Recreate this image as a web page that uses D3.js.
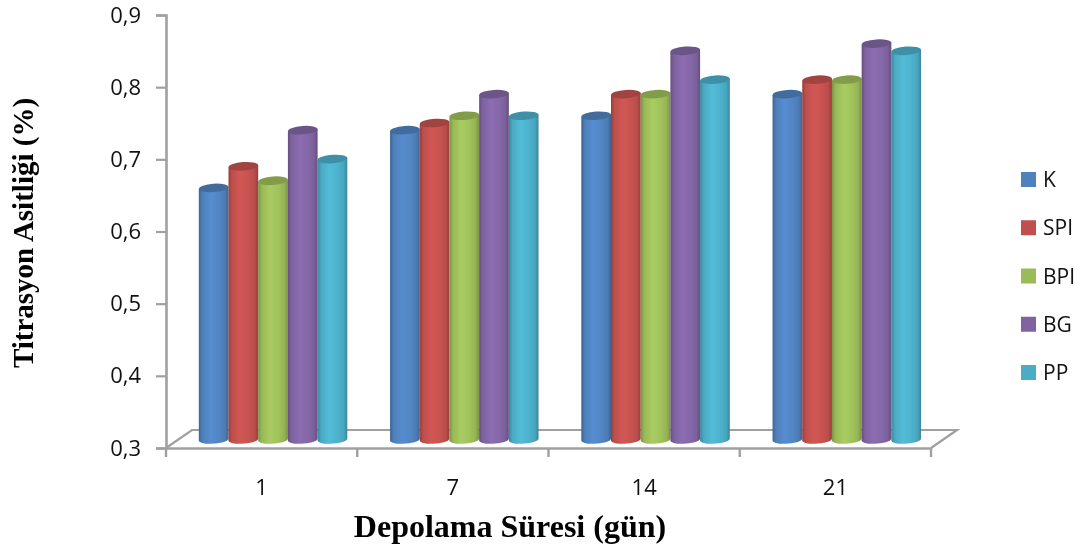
<!DOCTYPE html>
<html><head><meta charset="utf-8">
<style>html,body{margin:0;padding:0;background:#fff;overflow:hidden}svg{display:block;filter:blur(0.35px)}</style>
<script src="https://cdn.jsdelivr.net/npm/d3@7/dist/d3.min.js"></script></head>
<body><div id="c"></div>
<script>
const categories=["1","7","14","21"];
const seriesNames=["K","SPI","BPI","BG","PP"];
const K=[0.65,0.73,0.75,0.78];
const SPI=[0.68,0.74,0.78,0.80];
const BPI=[0.66,0.75,0.78,0.80];
const BG=[0.73,0.78,0.84,0.85];
const PP=[0.69,0.75,0.80,0.84];
const seriesValues=[K,SPI,BPI,BG,PP];
const colors=["#4F81BD","#C0504D","#9BBB59","#8064A2","#4BACC6"];
const yTicks=[0.3,0.4,0.5,0.6,0.7,0.8,0.9];
const W=1091,H=549;
const svg=d3.select("#c").append("svg").attr("width",W).attr("height",H);
const x0=d3.scaleBand().domain(categories).range([166,931]);
const x1=d3.scaleBand().domain(seriesNames).range([22,170.5]);
const y=d3.scaleLinear().domain([0.3,0.9]).range([448,15]);
const depth={x:11,y:7},back={x:26,y:18};
const defs=svg.append("defs");
colors.forEach((c,i)=>{
  const g=defs.append("linearGradient").attr("id","g"+i);
  const dk=d3.color(c).darker(0.7), lt=d3.color(c).brighter(0.25);
  [[0,dk],[0.12,d3.color(c).darker(0.05)],[0.4,lt],[0.68,d3.color(c).brighter(0.1)],[0.88,d3.color(c).darker(0.12)],[1,dk]].forEach(s=>
    g.append("stop").attr("offset",s[0]).attr("stop-color",s[1]));
});
const axisC="#a0a0a0";
const fl=svg.append("g").attr("fill","none").attr("stroke",axisC).attr("stroke-width",2.2);
fl.append("path").attr("d",`M166,${y(0.3)}L${166+back.x},${y(0.3)-back.y}H${931+back.x}L931,${y(0.3)}`);
const gx=svg.append("g").attr("transform",`translate(0,${y(0.3)})`)
  .call(d3.axisBottom(x0).tickSize(0).tickPadding(31));
gx.select(".domain").attr("stroke",axisC).attr("stroke-width",2.6);
const gy=svg.append("g").attr("transform","translate(166,0)")
  .call(d3.axisLeft(y).tickValues(yTicks).tickSize(10).tickPadding(15).tickFormat(d=>d3.format(".1f")(d).replace(".",",")));
gy.select(".domain").attr("stroke",axisC).attr("stroke-width",2.6);
gy.selectAll(".tick line").attr("stroke",axisC).attr("stroke-width",2.2);
svg.append("g").selectAll("line").data(categories.concat(["end"])).join("line")
  .attr("x1",(d,i)=>i<4?x0(d):x0.range()[1]).attr("x2",(d,i)=>i<4?x0(d):x0.range()[1])
  .attr("y1",y(0.3)).attr("y2",y(0.3)+9).attr("stroke",axisC).attr("stroke-width",2.4);
svg.selectAll(".tick text").attr("font-family","Open Sans, sans-serif").attr("font-size",22).attr("fill","#111");
const rx=x1.bandwidth()/2, ry=4.2, tilt=-4;
categories.forEach((cat,ci)=>{
  seriesNames.forEach((s,si)=>{
    const v=seriesValues[si][ci];
    const cx=x0(cat)+x1(s)+rx+depth.x-0.2;
    const top=y(v)-depth.y-0.5, bot=y(0.3)-depth.y-1;
    const g=svg.append("g");
    g.append("path").attr("fill",`url(#g${si})`)
      .attr("d",`M${cx-rx},${top+1}L${cx-rx},${bot}A${rx},${ry} ${tilt} 0 0 ${cx+rx},${bot-1}L${cx+rx},${top-1}Z`);
    g.append("ellipse").attr("cx",cx).attr("cy",top).attr("rx",rx).attr("ry",ry)
      .attr("transform",`rotate(${tilt} ${cx} ${top})`)
      .attr("fill",d3.color(colors[si]).darker(0.5));
  });
});
svg.append("text").attr("x",510).attr("y",537).attr("text-anchor","middle")
  .attr("font-family","Liberation Serif, serif").attr("font-weight","bold").attr("font-size",32).attr("fill","#000").text("Depolama Süresi (gün)");
svg.append("text").attr("transform","translate(33,233) rotate(-90)").attr("text-anchor","middle")
  .attr("font-family","Liberation Serif, serif").attr("font-weight","bold").attr("font-size",29).attr("fill","#000").text("Titrasyon Asitliği (%)");
const lg=d3.scalePoint().domain(seriesNames).range([172,365]);
const l=svg.append("g").selectAll("g").data(seriesNames).join("g").attr("transform",d=>`translate(1021,${lg(d)})`);
l.append("rect").attr("width",15).attr("height",15).attr("fill",(d,i)=>colors[i]);
l.append("text").attr("x",22).attr("y",15).attr("font-family","Open Sans, sans-serif").attr("font-size",21).attr("fill","#111").text(d=>d);
</script></body></html>
